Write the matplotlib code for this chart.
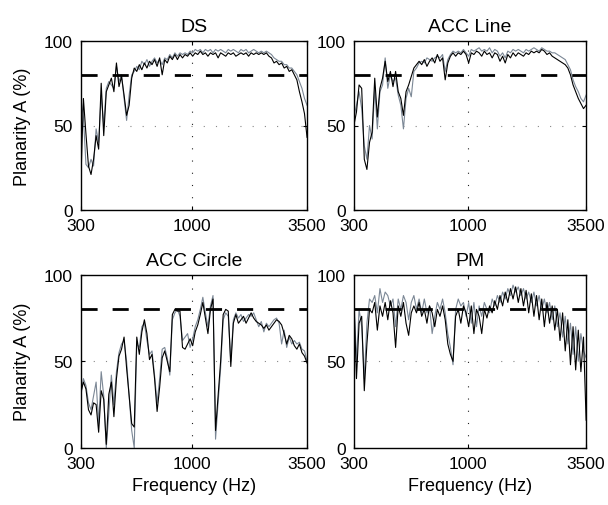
import numpy as np
import matplotlib
matplotlib.use("Agg")
from matplotlib import pyplot as plt

plt.rcParams['font.family'] = ['Liberation Sans', 'DejaVu Sans']

# sample frequencies (Hz), log spaced across the band
freq = np.geomspace(300, 3500, 90)

titles = ["DS", "ACC Line", "ACC Circle", "PM"]
threshold = 80

ds_black = [17, 66, 45, 26, 21, 30, 44, 36, 75, 44, 70, 74, 78, 70, 87, 73, 79, 68, 56, 62,
            78, 84, 82, 86, 83, 87, 84, 88, 86, 89, 85, 90, 80, 89, 87, 91, 89, 92, 89, 92,
            90, 92, 91, 93, 91, 93, 92, 94, 92, 93, 91, 93, 92, 93, 90, 93, 92, 91, 93, 92,
            93, 91, 92, 93, 92, 93, 91, 93, 92, 93, 92, 93, 92, 93, 91, 90, 87, 88, 86, 87,
            84, 85, 82, 83, 80, 77, 70, 64, 57, 43]
ds_gray = [66, 55, 27, 25, 30, 26, 48, 40, 68, 50, 72, 76, 74, 72, 85, 76, 80, 66, 53, 68,
           80, 82, 85, 83, 88, 86, 89, 85, 88, 90, 87, 89, 86, 90, 89, 92, 90, 93, 91, 93,
           92, 93, 92, 94, 93, 95, 94, 95, 93, 95, 94, 95, 93, 95, 94, 95, 94, 93, 95, 94,
           95, 94, 93, 95, 94, 95, 93, 94, 95, 94, 93, 94, 93, 94, 93, 92, 90, 89, 88, 88,
           86, 86, 84, 84, 82, 80, 76, 72, 66, 62]

line_black = [50, 58, 74, 72, 30, 24, 40, 46, 78, 55, 72, 78, 88, 76, 82, 73, 82, 70, 66, 56,
              70, 74, 79, 84, 86, 88, 86, 89, 85, 88, 90, 87, 92, 88, 90, 77, 87, 91, 93, 91,
              93, 92, 94, 92, 87, 93, 92, 94, 93, 91, 94, 92, 93, 90, 93, 92, 88, 91, 87, 92,
              90, 93, 91, 93, 92, 91, 93, 92, 94, 93, 94, 93, 95, 94, 92, 93, 91, 90, 89, 88,
              87, 86, 84, 80, 74, 70, 66, 63, 60, 62]
line_gray = [55, 62, 70, 60, 38, 30, 50, 42, 72, 48, 70, 74, 90, 72, 80, 76, 78, 68, 62, 48,
             66, 72, 67, 82, 84, 87, 88, 87, 90, 89, 88, 90, 91, 90, 92, 82, 89, 92, 94, 93,
             94, 93, 95, 93, 91, 95, 94, 95, 96, 94, 95, 94, 96, 93, 95, 94, 91, 93, 90, 94,
             93, 95, 94, 95, 94, 93, 95, 94, 95, 96, 95, 94, 96, 95, 94, 94, 93, 93, 92, 91,
             90, 89, 86, 83, 77, 73, 70, 66, 64, 68]

circle_black = [32, 38, 34, 22, 19, 26, 25, 9, 33, 28, 2, 31, 38, 18, 40, 53, 57, 64, 46, 30,
                14, 12, 64, 54, 67, 74, 66, 51, 54, 40, 21, 35, 52, 56, 50, 44, 77, 80, 79, 79,
                58, 57, 60, 63, 59, 67, 71, 77, 84, 75, 66, 80, 86, 10, 30, 50, 77, 80, 79, 47,
                72, 77, 72, 74, 76, 72, 75, 78, 75, 73, 72, 71, 69, 71, 68, 70, 72, 74, 73, 71,
                66, 60, 65, 63, 59, 57, 60, 55, 53, 49]
circle_gray = [30, 40, 36, 26, 22, 30, 38, 14, 44, 30, 0, 20, 42, 25, 44, 55, 60, 62, 50, 30,
               10, 0, 60, 58, 70, 72, 62, 54, 56, 42, 26, 40, 57, 58, 52, 42, 74, 78, 80, 76,
               62, 64, 66, 58, 63, 70, 74, 80, 87, 78, 70, 82, 88, 5, 26, 46, 74, 78, 76, 50,
               74, 78, 75, 77, 73, 75, 77, 76, 78, 74, 70, 73, 67, 72, 70, 72, 74, 75, 72, 60,
               68, 58, 64, 60, 62, 60, 61, 57, 56, 50]

pm_black = [86, 40, 72, 76, 33, 60, 80, 78, 84, 68, 82, 76, 84, 74, 85, 78, 58, 82, 76, 84,
            72, 65, 78, 82, 78, 84, 76, 80, 72, 82, 78, 70, 80, 76, 82, 74, 60, 54, 50, 76,
            80, 72, 82, 78, 70, 82, 66, 80, 76, 66, 80, 75, 82, 78, 85, 80, 88, 82, 90, 84,
            92, 86, 93, 84, 92, 82, 91, 78, 89, 76, 88, 74, 86, 70, 84, 72, 82, 68, 80, 62,
            78, 56, 74, 48, 70, 45, 68, 44, 64, 16]
pm_gray = [88, 50, 80, 70, 40, 72, 86, 84, 88, 78, 92, 84, 90, 88, 82, 86, 70, 86, 80, 88,
           84, 74, 84, 88, 80, 86, 78, 86, 78, 82, 66, 76, 84, 80, 86, 78, 66, 58, 48, 80,
           86, 82, 84, 76, 84, 72, 84, 70, 82, 76, 84, 80, 78, 86, 82, 88, 84, 90, 86, 92,
           88, 94, 90, 93, 88, 92, 86, 90, 84, 90, 82, 88, 80, 86, 78, 84, 74, 82, 70, 78,
           64, 76, 60, 72, 54, 70, 50, 66, 56, 52]

black_series = [ds_black, line_black, circle_black, pm_black]
gray_series = [ds_gray, line_gray, circle_gray, pm_gray]

fig = plt.figure(figsize=(6.08, 5.06), dpi=100)

# axes boxes in figure fractions (left, bottom, width, height)
boxes = [(0.133, 0.583, 0.372, 0.334),
         (0.582, 0.583, 0.382, 0.334),
         (0.133, 0.113, 0.372, 0.342),
         (0.582, 0.113, 0.382, 0.342)]

for k in range(4):
        ax = fig.add_axes(boxes[k])
        ax.set_xscale('log')
        ax.set_xlim(300, 3500)
        ax.set_ylim(0, 100)

        # grid lines, only at 1000 Hz and 50 %
        ax.axvline(1000, color='#222222', lw=0.8, ls=(0, (1, 10)), zorder=1)
        ax.axhline(50, color='#888888', lw=0.8, ls=(0, (1, 10)), zorder=1)

        ax.plot(freq, gray_series[k], color='#7b8795', lw=0.8, zorder=2)
        ax.plot(freq, black_series[k], color='black', lw=0.8, zorder=3)
        ax.axhline(threshold, color='black', lw=2, ls=(0, (5.8, 5.4)), zorder=4)

        ax.set_xticks([300, 1000, 3500])
        ax.set_xticklabels(["300", "1000", "3500"])
        ax.minorticks_off()
        ax.set_yticks([0, 50, 100])
        ax.tick_params(direction='in', top=True, right=True, length=3,
                       labelsize=12.5, pad=6)
        for s in ax.spines.values():
                s.set_linewidth(1.0)

        ax.set_title(titles[k], fontsize=14, pad=7)
        if k % 2 == 0:
                ax.set_ylabel("Planarity A (%)", fontsize=13, labelpad=9)
        if k >= 2:
                ax.set_xlabel("Frequency (Hz)", fontsize=13, labelpad=4)

fig.savefig("out.png", dpi=100)
